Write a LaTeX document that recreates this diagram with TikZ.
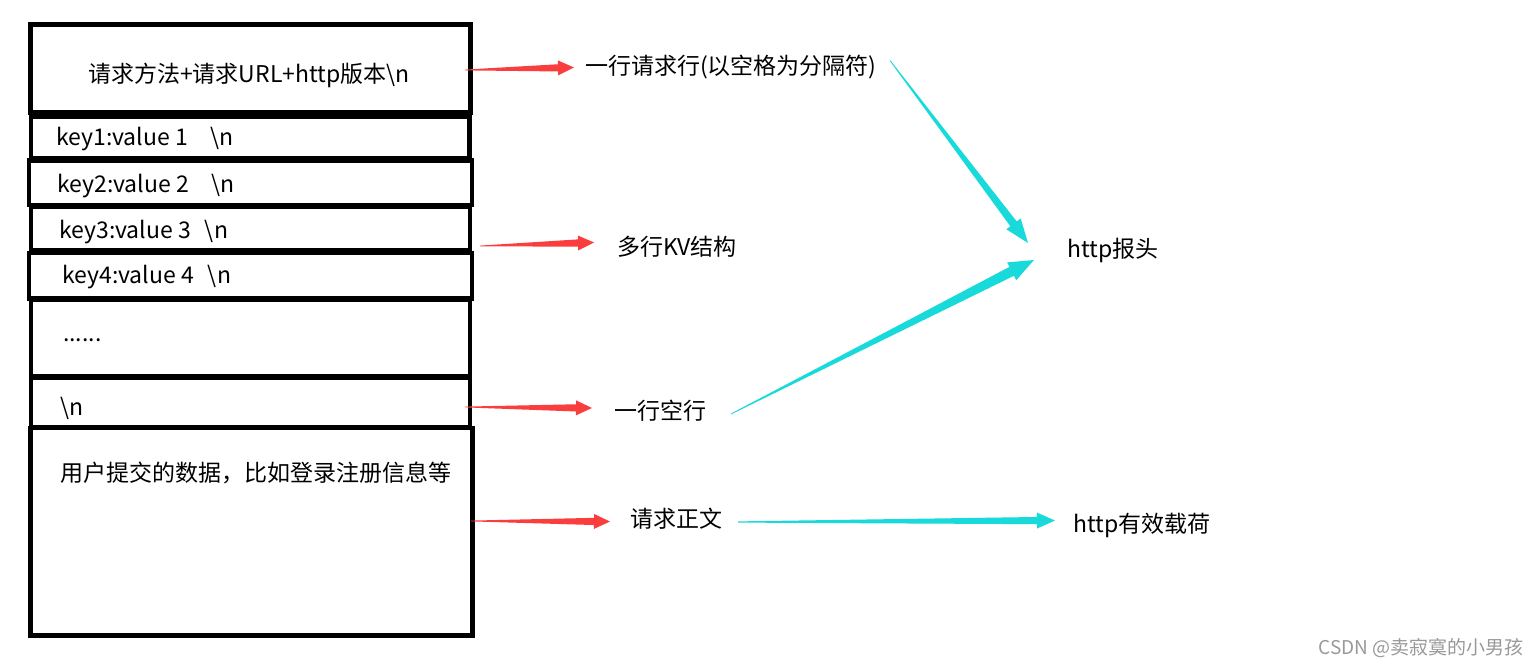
\documentclass[tikz,border=0pt]{standalone}
\usepackage{fontspec}
\setmainfont{Noto Sans CJK SC}
\usetikzlibrary{calc}
\definecolor{arrred}{RGB}{250,62,62}
\definecolor{arrcyan}{RGB}{24,218,218}
\def\taper[#1](#2)(#3)(#4:#5:#6:#7){\coordinate (tpc) at ($(#3)!#7!(#2)$);
	\fill[#1] ($(#2)!#4!90:(#3)$) -- ($(tpc)!#5!90:(#3)$) -- ($(tpc)!#6!90:(#3)$) -- (#3)
	-- ($(tpc)!#6!-90:(#3)$) -- ($(tpc)!#5!-90:(#3)$) -- ($(#2)!#4!-90:(#3)$) -- cycle;}

\begin{document}
\begin{tikzpicture}[x=1pt,y=-1pt,
		box/.style={line width=4.5pt},
		lbl/.style={font=\fontsize{23}{27}\selectfont,inner sep=0pt,anchor=west}]
		%%%%% START %%%%%
		
		\useasboundingbox (0,0) rectangle (1540,668);
		
		\draw[box] (30.5,24.5) rectangle (470.5,112.5);
		\draw[box] (31,117) rectangle (469.5,158.5);
		\draw[box] (29,160.5) rectangle (472,205);
		\draw[box] (31,207) rectangle (470,250.5);
		\draw[box] (29,253) rectangle (472,298.5);
		\draw[box] (31,300) rectangle (470,376);
		\draw[box] (31,377.5) rectangle (470,427.5);
		\draw[box] (30.5,428) rectangle (472.5,635.5);
		
		\node[lbl] (line) at (88,75) {请求方法+请求URL+http版本\textbackslash n};
		\node[lbl] (kv1) at (56,139) {key1:value 1\hspace{22pt}\textbackslash n};
		\node[lbl] (kv2) at (57,186) {key2:value 2\hspace{22pt}\textbackslash n};
		\node[lbl] (kv3) at (59,232) {key3:value 3\hspace{14pt}\textbackslash n};
		\node[lbl] (kv4) at (62,277) {key4:value 4\hspace{14pt}\textbackslash n};
		\node[lbl,anchor=base west] (dots) at (63,342) {......};
		\node[lbl] (blank) at (60,408) {\textbackslash n};
		\node[lbl] (data) at (60,473) {用户提交的数据，比如登录注册信息等};
		
		\node[lbl] (req) at (585,67) {一行请求行(以空格为分隔符)};
		\node[lbl] (multi) at (617,247) {多行KV结构};
		\node[lbl] (empty) at (614,411) {一行空行};
		\node[lbl] (body) at (630,519) {请求正文};
		\node[lbl] (head) at (1067,250) {http报头};
		\node[lbl] (load) at (1073,525) {http有效载荷};
		
		\coordinate (r1a) at (465,70);   \coordinate (r1b) at (574,67.5);
		\coordinate (r2a) at (480,246);  \coordinate (r2b) at (594,242.5);
		\coordinate (r3a) at (465,407);  \coordinate (r3b) at (592,408);
		\coordinate (r4a) at (471,521);  \coordinate (r4b) at (610,521.5);
		\coordinate (c1a) at (890,60.5); \coordinate (c1b) at (1028,243);
		\coordinate (c2a) at (731,414);  \coordinate (c2b) at (1034,260);
		\coordinate (c3a) at (738,522);  \coordinate (c3b) at (1055,520.5);
		
		\taper[arrred](r1a)(r1b)(0.4pt:3.6pt:7.5pt:16pt);
		\taper[arrred](r2a)(r2b)(0.4pt:3.6pt:7.5pt:16pt);
		\taper[arrred](r3a)(r3b)(0.4pt:3.6pt:7.5pt:16pt);
		\taper[arrred](r4a)(r4b)(0.4pt:3.6pt:7.5pt:16pt);
		\taper[arrcyan](c1a)(c1b)(0.4pt:4pt:9pt:24pt);
		\taper[arrcyan](c2a)(c2b)(0.4pt:5pt:10pt:25pt);
		\taper[arrcyan](c3a)(c3b)(0.6pt:3.6pt:8pt:18pt);
		
		\node[font=\fontsize{19}{22}\selectfont,text=black!40,inner sep=0pt,anchor=east] (mark) at (1524,648) {CSDN @卖寂寞的小男孩};
		
		%%%%% END %%%%%
	\end{tikzpicture}
\end{document}
